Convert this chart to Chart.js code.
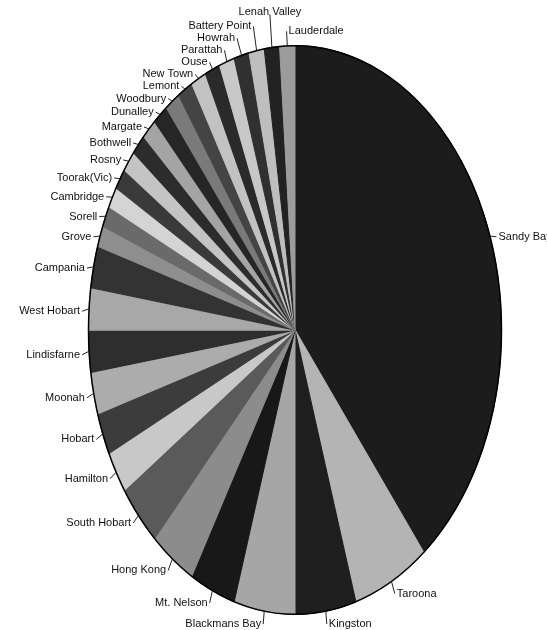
<!DOCTYPE html>
<html>
<head>
<meta charset="utf-8">
<title>Suburbs</title>
<script src="https://cdn.jsdelivr.net/npm/chart.js@4/dist/chart.umd.min.js"></script>
<style>
  html, body { margin: 0; padding: 0; background: #fff; }
  #chart { display: block; }
</style>
</head>
<body>
<canvas id="chart" width="547" height="630"></canvas>
<script>
// suburbs, clockwise from 12 o'clock
const suburbs = [
    "Sandy Bay", "Taroona", "Kingston", "Blackmans Bay", "Mt. Nelson",
    "Hong Kong", "South Hobart", "Hamilton", "Hobart", "Moonah",
    "Lindisfarne", "West Hobart", "Campania", "Grove", "Sorell",
    "Cambridge", "Toorak(Vic)", "Rosny", "Bothwell", "Margate",
    "Dunalley", "Woodbury", "Lemont", "New Town", "Ouse",
    "Parattah", "Howrah", "Battery Point", "Lenah Valley", "Lauderdale"
];
const counts = [
    33, 5, 4, 4, 3,
    3, 3, 2, 2, 2,
    2, 2, 2, 1, 1,
    1, 1, 1, 1, 1,
    1, 1, 1, 1, 1,
    1, 1, 1, 1, 1
];
const grays = [
    "#1c1c1c", "#b4b4b4", "#1e1e1e", "#a6a6a6", "#181818",
    "#8c8c8c", "#5a5a5a", "#c8c8c8", "#3c3c3c", "#acacac",
    "#2e2e2e", "#a8a8a8", "#333333", "#8e8e8e", "#6a6a6a",
    "#d4d4d4", "#3a3a3a", "#c4c4c4", "#2c2c2c", "#a4a4a4",
    "#262626", "#7a7a7a", "#444444", "#c2c2c2", "#2a2a2a",
    "#c8c8c8", "#303030", "#bebebe", "#222222", "#9c9c9c"
];

const stretch = 1.377;   // vertical / horizontal radius of the pie
const leader = 7;        // leader line length
const labelDrop = 3;     // labels sit a little below the slice direction
const labelGap = 12;     // min vertical distance between stacked labels

// squash the round pie into a tall ellipse, then add outline and labels
const ellipsePie = {
    id: 'ellipsePie',
    beforeDatasetsDraw(chart) {
        const arc = chart.getDatasetMeta(0).data[0];
        const ctx = chart.ctx;
        ctx.save();
        ctx.translate(arc.x, arc.y);
        ctx.scale(1, stretch);
        ctx.translate(-arc.x, -arc.y);
    },
    afterDatasetsDraw(chart) {
        const ctx = chart.ctx;
        ctx.restore();

        const arcs = chart.getDatasetMeta(0).data;
        const cx = arcs[0].x, cy = arcs[0].y;
        const rx = arcs[0].outerRadius, ry = rx * stretch;

        ctx.save();
        ctx.strokeStyle = "#000";
        ctx.lineWidth = 1.5;
        ctx.beginPath();
        ctx.ellipse(cx, cy, rx, ry, 0, 0, Math.PI * 2);
        ctx.stroke();

        const labels = arcs.map((arc, i) => {
            const mid = (arc.startAngle + arc.endAngle) / 2;
            const c = Math.cos(mid), s = Math.sin(mid);
            const right = c > -0.05;
            let align = right ? "left" : "right";
            if (!right && s < 0 && Math.abs(c) < 0.12) align = "center";
            let drop = labelDrop;
            if (s > 0.8) drop += 3;
            // near the top the leaders run longer, up above the rim
            const len = s < -0.95 ? leader * 2.5 : leader;
            return {
                text: suburbs[i],
                ex: cx + rx * c, ey: cy + ry * s,
                x: cx + (rx + len) * c, y: cy + (ry + len) * s + drop,
                right: right, align: align
            };
        });

        // left side, working upwards: push crowded labels apart
        let prevY = null;
        labels.forEach(l => {
            if (l.right) return;
            if (prevY !== null && l.y > prevY - labelGap) l.y = prevY - labelGap;
            prevY = l.y;
        });

        ctx.font = "11px 'Liberation Sans', Arial, sans-serif";
        ctx.fillStyle = "#111";
        ctx.strokeStyle = "#222";
        ctx.lineWidth = 1;
        ctx.textBaseline = "middle";
        labels.forEach(l => {
            ctx.beginPath();
            ctx.moveTo(l.ex, l.ey);
            ctx.lineTo(l.x, l.y);
            ctx.stroke();
            ctx.textAlign = l.align;
            let tx = l.x, ty = l.y;
            if (l.align === "left") tx += 2;
            else if (l.align === "right") tx -= 2;
            else ty -= 2;
            ctx.fillText(l.text, tx, ty);
        });
        ctx.restore();
    }
};

new Chart(document.getElementById("chart"), {
    type: 'pie',
    data: {
        labels: suburbs,
        datasets: [{
            data: counts,
            backgroundColor: grays,
            borderColor: grays,
            borderWidth: 1,
            clip: false
        }]
    },
    options: {
        responsive: false,
        animation: false,
        devicePixelRatio: 1,
        layout: { padding: { left: 88, right: 45, top: 30, bottom: 0 } },
        plugins: {
            legend: { display: false },
            tooltip: { enabled: false }
        }
    },
    plugins: [ellipsePie]
});
</script>
</body>
</html>
